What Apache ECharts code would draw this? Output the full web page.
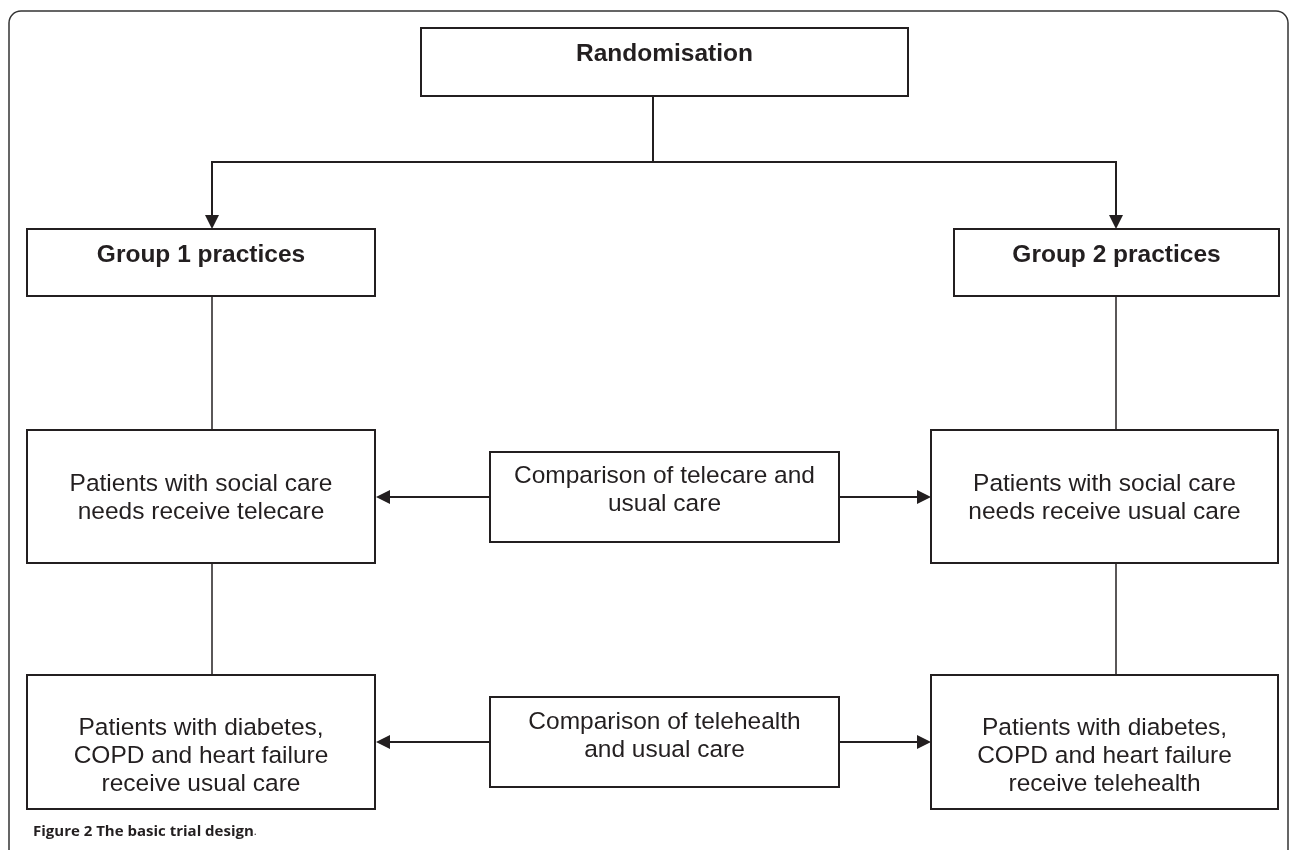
<!DOCTYPE html>
<html>
<head>
<meta charset="utf-8">
<title>The basic trial design</title>
<script src="https://cdn.jsdelivr.net/npm/echarts@6/dist/echarts.min.js"></script>
<style>
  html, body { margin: 0; padding: 0; background: #fff; }
  #chart { width: 1290px; height: 850px; }
</style>
</head>
<body>
<div id="chart"></div>
<script>
  // box texts, top to bottom, left to right
  var boxLabels = [
    'Randomisation',
    'Group 1 practices',
    'Group 2 practices',
    'Patients with social care\nneeds receive telecare',
    'Comparison of telecare and\nusual care',
    'Patients with social care\nneeds receive usual care',
    'Patients with diabetes,\nCOPD and heart failure\nreceive usual care',
    'Comparison of telehealth\nand usual care',
    'Patients with diabetes,\nCOPD and heart failure\nreceive telehealth'
  ];
  var boxBold = [true, true, true, false, false, false, false, false, false];
  var captionBold = 'Figure 2 The basic trial design';
  var captionRest = '.';

  // layout (axis units = px): x0, y0, x1, y1, text centre y
  var boxRects = [
    [421, 28, 908, 96, 54],
    [27, 229, 375, 296, 255],
    [954, 229, 1279, 296, 255],
    [27, 430, 375, 563, 498],
    [490, 452, 839, 542, 490],
    [931, 430, 1278, 563, 498],
    [27, 675, 375, 809, 756],
    [490, 697, 839, 787, 736],
    [931, 675, 1278, 809, 756]
  ];
  // connectors: polyline points, arrow at the end or not
  var links = [
    { pts: [[653, 96], [653, 162]], arrow: false, w: 2 },
    { pts: [[653, 162], [212, 162], [212, 229]], arrow: true, w: 2 },
    { pts: [[653, 162], [1116, 162], [1116, 229]], arrow: true, w: 2 },
    { pts: [[212, 296], [212, 430]], arrow: false, w: 1.5 },
    { pts: [[1116, 296], [1116, 430]], arrow: false, w: 1.5 },
    { pts: [[212, 563], [212, 675]], arrow: false, w: 1.5 },
    { pts: [[1116, 563], [1116, 675]], arrow: false, w: 1.5 },
    { pts: [[490, 497], [376, 497]], arrow: true, w: 2 },
    { pts: [[839, 497], [931, 497]], arrow: true, w: 2 },
    { pts: [[490, 742], [376, 742]], arrow: true, w: 2 },
    { pts: [[839, 742], [931, 742]], arrow: true, w: 2 }
  ];

  var ink = '#231f20';
  var fontFamily = '"Liberation Sans", Arial, sans-serif';

  var myChart = echarts.init(document.getElementById('chart'));

  var boxData = boxRects.map(function (r, i) {
    return { value: [r[0], r[1], r[2], r[3], r[4]], name: boxLabels[i] };
  });
  var linkData = links.map(function (l, i) {
    return { value: [l.pts[0][0], l.pts[0][1], i] };
  });

  var option = {
    backgroundColor: '#fff',
    animation: false,
    grid: { left: 0, right: 0, top: 0, bottom: 0 },
    xAxis: { type: 'value', min: 0, max: 1290, show: false },
    yAxis: { type: 'value', min: 0, max: 850, inverse: true, show: false },
    title: {
      left: 33,
      top: 824,
      padding: 0,
      text: '{b|' + captionBold + '}{n|' + captionRest + '}',
      textStyle: {
        rich: {
          b: { fontFamily: '"Open Sans", sans-serif', fontWeight: 'bold', fontSize: 15, color: ink },
          n: { fontFamily: '"Open Sans", sans-serif', fontWeight: 'normal', fontSize: 11, color: ink }
        }
      }
    },
    graphic: [{
      type: 'rect',
      silent: true,
      shape: { x: 9, y: 11, width: 1279, height: 900, r: [12, 12, 0, 0] },
      style: { fill: 'none', stroke: '#333', lineWidth: 1.5 }
    }],
    series: [
      {
        type: 'custom',
        name: 'links',
        data: linkData,
        encode: { x: 0, y: 1 },
        renderItem: function (params, api) {
          var l = links[api.value(2)];
          var pts = l.pts.map(function (p) { return api.coord(p); });
          var children = [{
            type: 'polyline',
            shape: { points: pts },
            style: { fill: 'none', stroke: ink, lineWidth: l.w }
          }];
          if (l.arrow) {
            var a = pts[pts.length - 2], b = pts[pts.length - 1];
            var dx = b[0] - a[0], dy = b[1] - a[1];
            var len = Math.sqrt(dx * dx + dy * dy);
            var ux = dx / len, uy = dy / len;
            var hl = 14, hw = 7;
            var bx = b[0] - ux * hl, by = b[1] - uy * hl;
            children[0].shape.points[pts.length - 1] = [bx, by];
            children.push({
              type: 'polygon',
              shape: { points: [b, [bx - uy * hw, by + ux * hw], [bx + uy * hw, by - ux * hw]] },
              style: { fill: ink }
            });
          }
          return { type: 'group', children: children };
        }
      },
      {
        type: 'custom',
        name: 'boxes',
        data: boxData,
        encode: { x: [0, 2], y: [1, 3] },
        renderItem: function (params, api) {
          var i = params.dataIndex;
          var p0 = api.coord([api.value(0), api.value(1)]);
          var p1 = api.coord([api.value(2), api.value(3)]);
          var ty = api.coord([0, api.value(4)])[1];
          return {
            type: 'group',
            children: [
              {
                type: 'rect',
                shape: { x: p0[0], y: p0[1], width: p1[0] - p0[0], height: p1[1] - p0[1] },
                style: { fill: '#fff', stroke: ink, lineWidth: 2 }
              },
              {
                type: 'text',
                style: {
                  text: boxLabels[i],
                  x: (p0[0] + p1[0]) / 2,
                  y: ty,
                  align: 'center',
                  verticalAlign: 'middle',
                  lineHeight: 28,
                  fontFamily: fontFamily,
                  fontWeight: boxBold[i] ? 'bold' : 'normal',
                  fontSize: 24.5,
                  fill: ink
                }
              }
            ]
          };
        }
      }
    ]
  };

  myChart.setOption(option);
</script>
</body>
</html>
